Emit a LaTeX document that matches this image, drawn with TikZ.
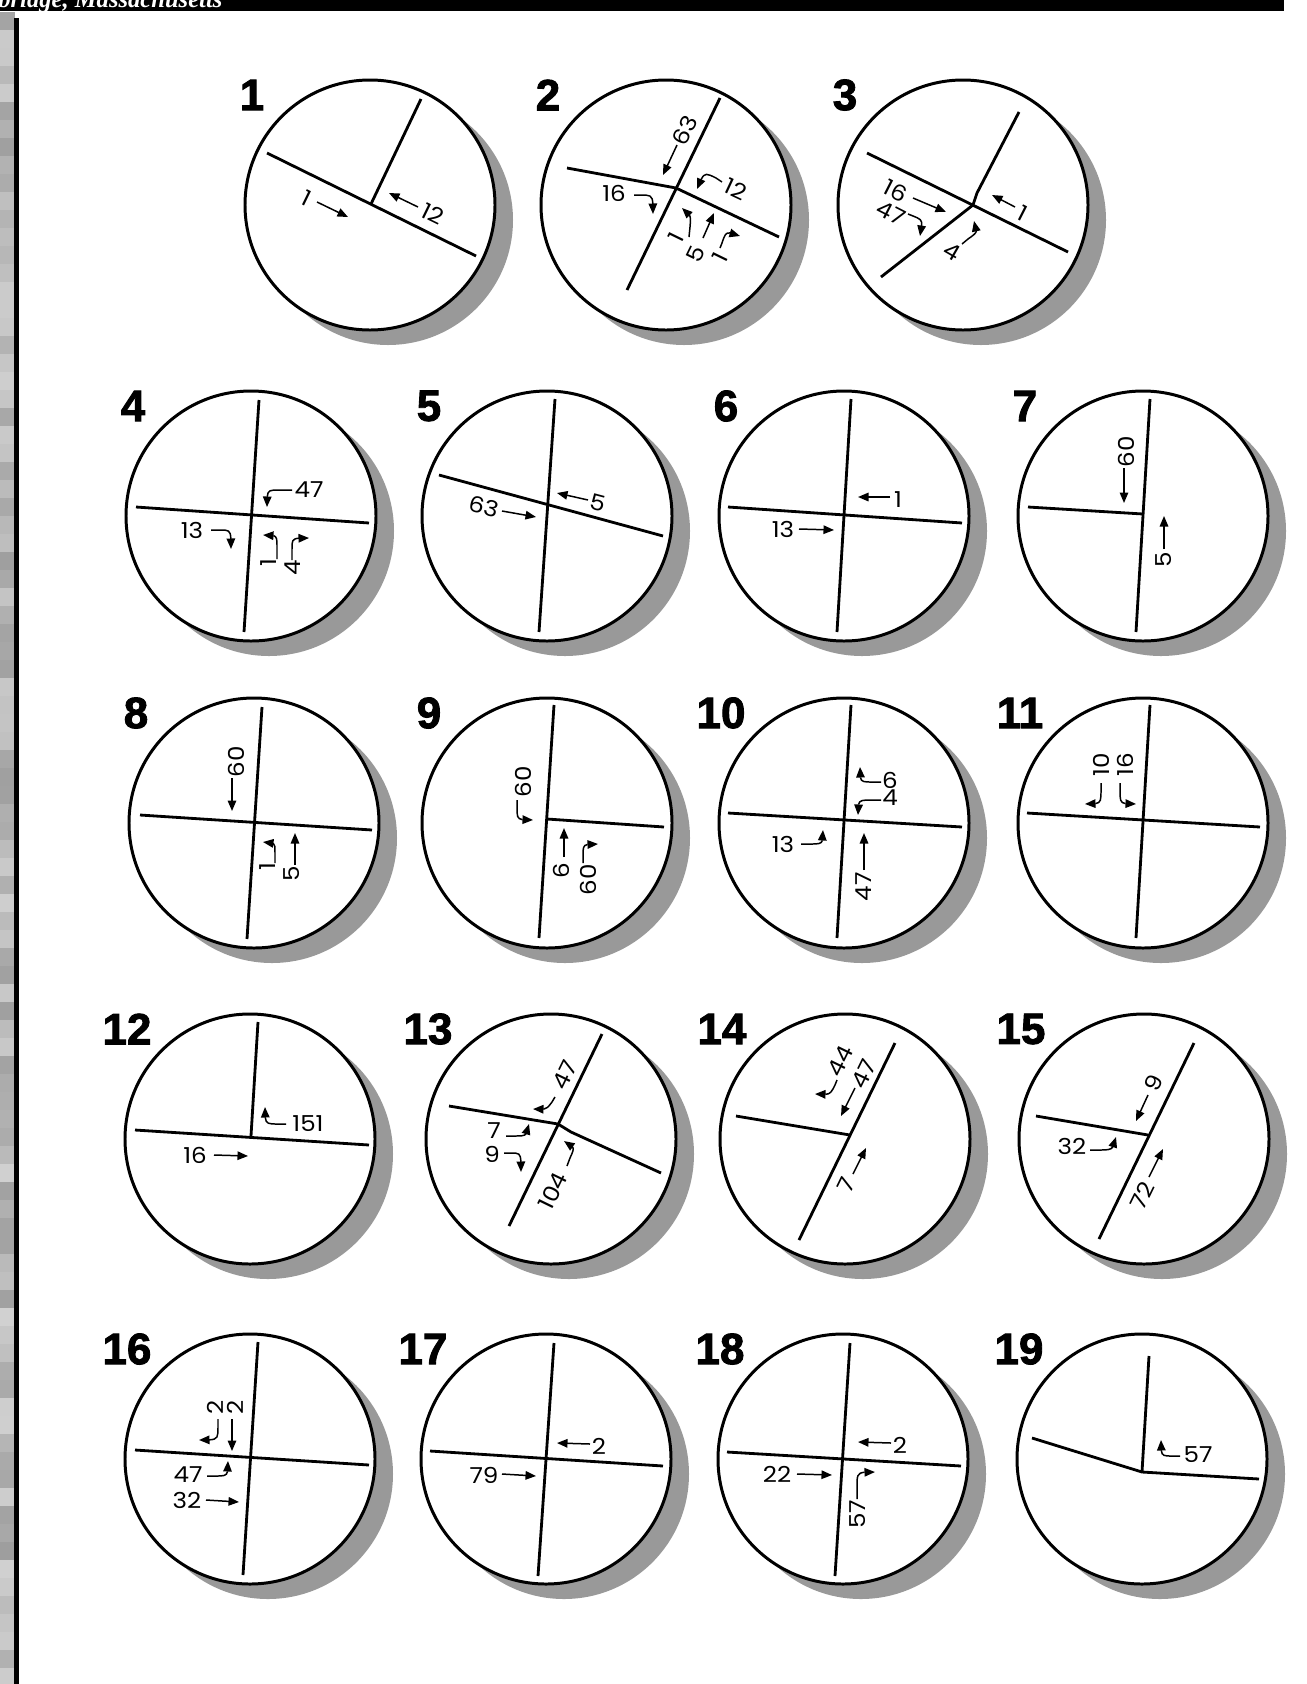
\documentclass[tikz,border=0pt]{standalone}
\usepackage{fontspec}
\setmainfont{Liberation Serif}
\newfontfamily\numfont{Liberation Sans}[BoldFeatures={FakeBold=2}]
\newfontfamily\lblfont{Poppins}[FakeStretch=1.12]
\usetikzlibrary{arrows.meta, bending}

\tikzset{
  disc/.style={draw, fill=white, line width=1.7pt},
  discshadow/.style={fill=black!40},
  cut/.style={line width=1.6pt, line join=miter},
  dir/.style={line width=0.85pt, -{Triangle[length=0.21cm,width=0.17cm]}},
  lbl/.style={font=\lblfont\fontsize{12.5}{12.5}\selectfont, inner sep=0pt},
  num/.style={font=\numfont\bfseries\fontsize{25}{25}\selectfont, inner sep=0pt},
}

\begin{document}
\begin{tikzpicture}[x=0.02cm,y=-0.02cm]

\def\r{125}
\useasboundingbox (0,0) rectangle (1306,1684);

% page frame
\fill[black] (0,0) rectangle (1284,11);
\node[anchor=base west, inner sep=0pt, text=white,
  font=\bfseries\itshape\fontsize{14}{14}\selectfont] (place) at (-2,7) {bridge, Massachusetts};
\pgfmathsetseed{7}
\foreach \y in {12,30,...,1670}{
  \pgfmathsetmacro\g{18+20*rnd}
  \fill[black!\g] (0,\y) rectangle (15,\y+18);
}
\draw[line width=2.5] (16.5,18) -- (16.5,1684);

% discs with shadows and numbers
\foreach \cx/\cy/\k in {370/205/1, 666/205/2, 963/205/3,
    251/516/4, 547/516/5, 844/516/6, 1143/516/7,
    254/823/8, 547/823/9, 844/823/10, 1143/823/11,
    250/1139/12, 551/1139/13, 845/1139/14, 1144/1139/15,
    250/1459/16, 546/1459/17, 843/1459/18, 1142/1459/19}{
  \fill[discshadow] (\cx+18,\cy+15) circle[radius=\r];
  \draw[disc] (\cx,\cy) circle[radius=\r];
  \ifnum\k<10 \def\hx{-118}\else\def\hx{-123}\fi
  \node[num] (h\k) at (\cx+\hx,\cy-110) {\k};
}

% 1
\begin{scope}[shift={(370,205)}]
  \draw[cut] (-103,-52) -- (106,51);
  \draw[cut] (51,-106) -- (1,-1);
  \node[lbl, rotate=-26] (a1) at (-63,-7) {1};
  \draw[dir] (-53,-3) -- (-22,12);
  \node[lbl, rotate=-26] (b1) at (63,9) {12};
  \draw[dir] (48,2) -- (19,-12);
\end{scope}

% 2
\begin{scope}[shift={(666,205)}]
  \draw[cut] (54,-107) -- (-39,85);
  \draw[cut] (-99,-37) -- (10,-17) -- (113,32);
  \node[lbl, rotate=64] (a2) at (19,-75) {63};
  \draw[dir] (11,-60) -- (-3,-30);
  \node[lbl, rotate=-25] (b2) at (70,-16) {12};
  \draw[dir] (56,-23) -- (50,-27) .. controls (38,-33) .. (31,-16);
  \node[lbl] (c2) at (-52,-12) {16};
  \draw[dir] (-32,-10) -- (-26,-10) .. controls (-13,-10) .. (-13,9);
  \node[lbl, rotate=64] (d2) at (10,32) {1};
  \draw[dir] (23,32) -- (24,22) .. controls (25,10) .. (16,3);
  \node[lbl, rotate=64] (e2) at (30,49) {5};
  \draw[dir] (37,33) -- (48,8);
  \node[lbl, rotate=64] (f2) at (54,52) {1};
  \draw[dir] (54,43) -- (56,38) .. controls (60,26) .. (74,31);
\end{scope}

% 3
\begin{scope}[shift={(963,205)}]
  \draw[cut] (56,-93) -- (14,-12) -- (10,0) -- (-82,72);
  \draw[cut] (-96,-52) -- (105,47);
  \node[lbl, rotate=-27] (a3) at (-67,-14) {16};
  \draw[dir] (-50,-7) -- (-17,7);
  \node[lbl, rotate=-27] (b3) at (-72,8) {47};
  \draw[dir] (-55,9) -- (-50,11) .. controls (-40,15) .. (-43,31);
  \node[lbl, rotate=-27] (c3) at (60,8) {1};
  \draw[dir] (52,2) -- (29,-10);
  \node[lbl, rotate=-30] (d3) at (-11,47) {4};
  \draw[dir] (-1,39) -- (5,34) .. controls (15,27) .. (11,16);
\end{scope}

% 4
\begin{scope}[shift={(251,516)}]
  \draw[cut] (8,-116) -- (-7,116);
  \draw[cut] (-115,-9) -- (118,7);
  \node[lbl] (a4) at (58,-26) {47};
  \draw[dir] (41,-26) -- (28,-26) .. controls (16,-26) .. (16,-9);
  \node[lbl] (b4) at (-59,14) {13};
  \draw[dir] (-40,14) -- (-31,14) .. controls (-20,14) .. (-20,33);
  \node[lbl, rotate=90] (c4) at (18,47) {1};
  \draw[dir] (26,43) -- (26,31) .. controls (26,19) .. (12,19);
  \node[lbl, rotate=90] (d4) at (42,52) {4};
  \draw[dir] (41,44) -- (41,33) .. controls (41,22) .. (58,22);
\end{scope}

% 5
\begin{scope}[shift={(547,516)}]
  \draw[cut] (8,-117) -- (-8,116);
  \draw[cut] (-108,-41) -- (116,20);
  \node[lbl, rotate=-15] (a5) at (-63,-9) {63};
  \draw[dir] (-45,-5) -- (-11,1);
  \node[lbl, rotate=-15] (b5) at (51,-13) {5};
  \draw[dir] (41,-16) -- (10,-23);
\end{scope}

% 6
\begin{scope}[shift={(844,516)}]
  \draw[cut] (7,-117) -- (-7,116);
  \draw[cut] (-116,-9) -- (118,7);
  \node[lbl] (a6) at (54,-16) {1};
  \draw[dir] (46,-19) -- (14,-19);
  \node[lbl] (b6) at (-61,13) {13};
  \draw[dir] (-45,13) -- (-10,14);
\end{scope}

% 7
\begin{scope}[shift={(1143,516)}]
  \draw[cut] (7,-117) -- (-7,116);
  \draw[cut] (-115,-9) -- (0,-2);
  \node[lbl, rotate=90] (a7) at (-17,-64) {60};
  \draw[dir] (-19,-48) -- (-19,-13);
  \node[lbl, rotate=90] (b7) at (21,44) {5};
  \draw[dir] (21,33) -- (21,0);
\end{scope}

% 8
\begin{scope}[shift={(254,823)}]
  \draw[cut] (8,-116) -- (-7,116);
  \draw[cut] (-114,-8) -- (118,7);
  \node[lbl, rotate=90] (a8) at (-18,-61) {60};
  \draw[dir] (-22,-45) -- (-22,-12);
  \node[lbl, rotate=90] (b8) at (14,44) {1};
  \draw[dir] (21,40) -- (21,30) .. controls (21,19) .. (9,19);
  \node[lbl, rotate=90] (c8) at (38,51) {5};
  \draw[dir] (41,42) -- (41,10);
\end{scope}

% 9
\begin{scope}[shift={(547,823)}]
  \draw[cut] (7,-118) -- (-8,115);
  \draw[cut] (0,-4) -- (117,4);
  \node[lbl, rotate=90] (a9) at (-24,-41) {60};
  \draw[dir] (-30,-23) -- (-30,-16) .. controls (-30,-3) .. (-14,-3);
  \node[lbl, rotate=90] (b9) at (14,48) {6};
  \draw[dir] (17,34) -- (17,5);
  \node[lbl, rotate=90] (c9) at (41,57) {60};
  \draw[dir] (36,40) -- (36,33) .. controls (36,21) .. (51,21);
\end{scope}

% 10
\begin{scope}[shift={(844,823)}]
  \draw[cut] (7,-118) -- (-7,115);
  \draw[cut] (-116,-10) -- (118,4);
  \node[lbl] (a10) at (46,-43) {6};
  \draw[dir] (37,-41) -- (28,-41) .. controls (16,-41) .. (16,-56);
  \node[lbl] (b10) at (46,-25) {4};
  \draw[dir] (37,-23) -- (28,-23) .. controls (14,-23) .. (14,-8);
  \node[lbl] (c10) at (-61,21) {13};
  \draw[dir] (-43,21) -- (-34,21) .. controls (-21,21) .. (-21,7);
  \node[lbl, rotate=90] (d10) at (20,64) {47};
  \draw[dir] (20,47) -- (20,10);
\end{scope}

% 11
\begin{scope}[shift={(1143,823)}]
  \draw[cut] (7,-118) -- (-7,115);
  \draw[cut] (-116,-10) -- (117,4);
  \node[lbl, rotate=90] (a11) at (-42,-58) {10};
  \draw[dir] (-42,-40) -- (-42,-33) .. controls (-42,-19) .. (-58,-19);
  \node[lbl, rotate=90] (b11) at (-18,-58) {16};
  \draw[dir] (-23,-40) -- (-23,-33) .. controls (-23,-19) .. (-7,-19);
\end{scope}

% 12
\begin{scope}[shift={(250,1139)}]
  \draw[cut] (-115,-9) -- (119,6);
  \draw[cut] (8,-117) -- (1,-3);
  \node[lbl] (a12) at (58,-15) {151};
  \draw[dir] (36,-15) -- (28,-15) .. controls (15,-15) .. (15,-32);
  \node[lbl] (b12) at (-55,16) {16};
  \draw[dir] (-36,16) -- (-2,17);
\end{scope}

% 13
\begin{scope}[shift={(551,1139)}]
  \draw[cut] (51,-105) -- (-42,87);
  \draw[cut] (-102,-33) -- (7,-15) -- (20,-7) -- (110,34);
  \node[lbl, rotate=64] (a13) at (14,-64) {47};
  \draw[dir] (4,-42) -- (1,-37) .. controls (-5,-29) .. (-18,-30);
  \node[lbl] (b13) at (-57,-8) {7};
  \draw[dir] (-45,-3) -- (-38,-3) .. controls (-24,-3) .. (-22,-15);
  \node[lbl] (c13) at (-59,15) {9};
  \draw[dir] (-47,14) -- (-40,14) .. controls (-30,14) .. (-30,33);
  \node[lbl, rotate=64] (d13) at (2,52) {104};
  \draw[dir] (16,27) -- (19,19) .. controls (24,8) .. (13,2);
\end{scope}

% 14
\begin{scope}[shift={(845,1139)}]
  \draw[cut] (50,-96) -- (-46,101);
  \draw[cut] (-109,-23) -- (5,-4);
  \node[lbl, rotate=64] (a14) at (-5,-78) {44};
  \draw[dir] (-8,-59) -- (-10,-54) .. controls (-15,-44) .. (-30,-45);
  \node[lbl, rotate=64] (b14) at (19,-65) {47};
  \draw[dir] (10,-51) -- (-4,-23);
  \node[lbl, rotate=64] (c14) at (1,46) {7};
  \draw[dir] (8,35) -- (21,9);
\end{scope}

% 15
\begin{scope}[shift={(1144,1139)}]
  \draw[cut] (50,-96) -- (-45,100);
  \draw[cut] (-108,-23) -- (4,-4);
  \node[lbl, rotate=64] (a15) at (10,-56) {9};
  \draw[dir] (4,-44) -- (-8,-18);
  \node[lbl] (b15) at (-72,7) {32};
  \draw[dir] (-54,11) -- (-46,11) .. controls (-31,11) .. (-28,-2);
  \node[lbl, rotate=64] (c15) at (-2,57) {72};
  \draw[dir] (5,38) -- (19,10);
\end{scope}

% 16
\begin{scope}[shift={(250,1459)}]
  \draw[cut] (8,-117) -- (-7,116);
  \draw[cut] (-115,-9) -- (119,6);
  \node[lbl, rotate=90] (a16) at (-35,-52) {2};
  \draw[dir] (-32,-40) -- (-32,-32) .. controls (-32,-19) .. (-51,-19);
  \node[lbl, rotate=90] (b16) at (-15,-52) {2};
  \draw[dir] (-18,-40) -- (-18,-8);
  \node[lbl] (c16) at (-62,16) {47};
  \draw[dir] (-43,17) -- (-35,17) .. controls (-22,17) .. (-22,2);
  \node[lbl] (d16) at (-63,41) {32};
  \draw[dir] (-44,41) -- (-11,43);
\end{scope}

% 17
\begin{scope}[shift={(546,1459)}]
  \draw[cut] (8,-116) -- (-8,117);
  \draw[cut] (-116,-8) -- (117,7);
  \node[lbl] (a17) at (53,-13) {2};
  \draw[dir] (44,-15) -- (11,-16);
  \node[lbl] (b17) at (-62,16) {79};
  \draw[dir] (-44,15) -- (-10,17);
\end{scope}

% 18
\begin{scope}[shift={(843,1459)}]
  \draw[cut] (7,-116) -- (-8,117);
  \draw[cut] (-116,-7) -- (118,7);
  \node[lbl] (a18) at (57,-14) {2};
  \draw[dir] (48,-16) -- (15,-17);
  \node[lbl] (b18) at (-66,15) {22};
  \draw[dir] (-46,15) -- (-11,16);
  \node[lbl, rotate=90] (c18) at (15,55) {57};
  \draw[dir] (14,40) -- (14,28) .. controls (14,13) .. (32,13);
\end{scope}

% 19
\begin{scope}[shift={(1142,1459)}]
  \draw[cut] (-110,-21) -- (0,13) -- (117,20);
  \draw[cut] (7,-103) -- (0,13);
  \node[lbl] (a19) at (56,-4) {57};
  \draw[dir] (38,-3) -- (30,-3) .. controls (19,-3) .. (19,-19);
\end{scope}

\end{tikzpicture}
\end{document}
